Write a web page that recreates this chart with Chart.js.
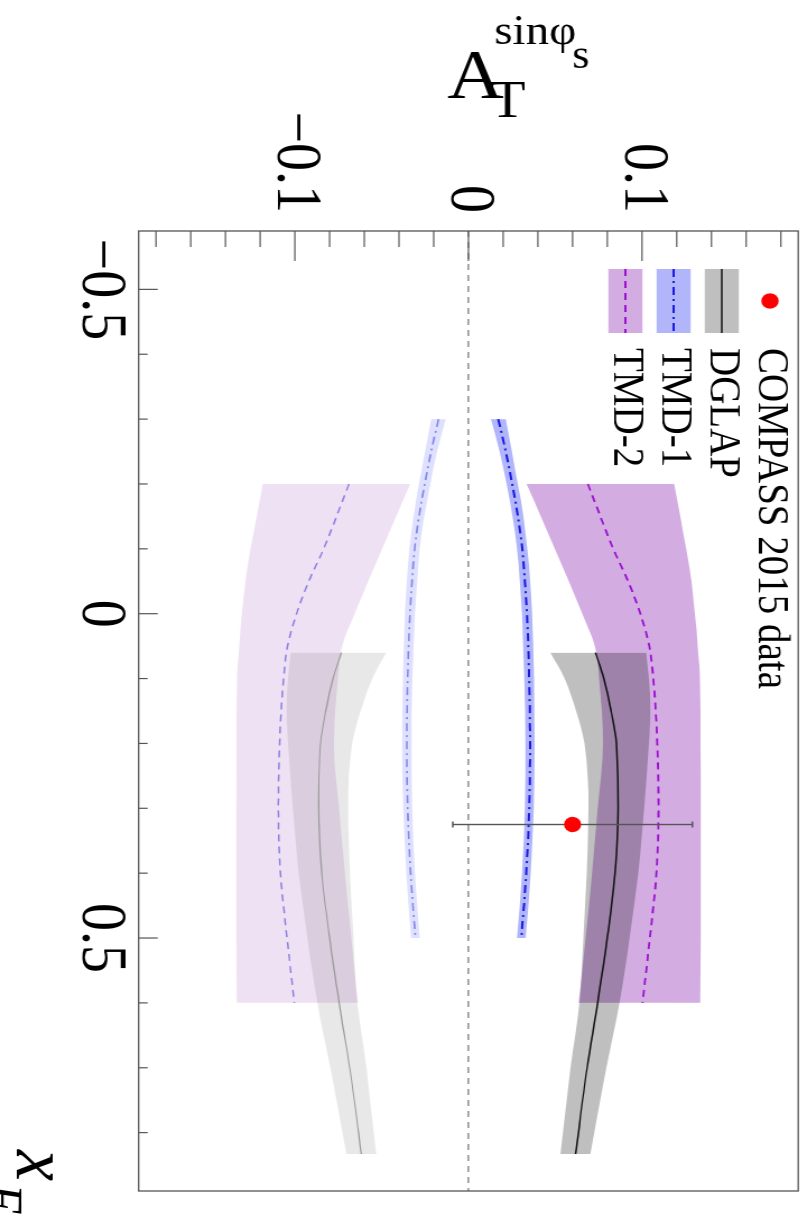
<!DOCTYPE html>
<html>
<head>
<meta charset="utf-8">
<script src="https://cdn.jsdelivr.net/npm/chart.js@4.4.1/dist/chart.umd.min.js"></script>
<style>
  html, body { margin: 0; padding: 0; background: #fff; overflow: hidden; }
  /* the plot is laid out with xF horizontal, then turned a quarter clockwise */
  #wrap {
    position: absolute; left: 0; top: 0;
    width: 1219px; height: 720px;
    transform-origin: 0 0;
    transform: translate(807px, 0) rotate(90deg) scaleY(1.1208);
  }
</style>
</head>
<body>
<div id="wrap"><canvas id="asym" width="1219" height="720"></canvas></div>
<script>
// DGLAP evolution: central curve and error band
const dglapX   = [0.06, 0.10, 0.15, 0.20, 0.30, 0.40, 0.50, 0.60, 0.70, 0.833];
const dglapMid = [0.0732, 0.0780, 0.0822, 0.0852, 0.0863, 0.0845, 0.0800, 0.0745, 0.0684, 0.0617];
const dglapHi  = [0.1023, 0.1040, 0.1048, 0.1040, 0.1012, 0.0978, 0.0928, 0.0870, 0.0795, 0.0703];
const dglapLo  = [0.0472, 0.0554, 0.0621, 0.0669, 0.0692, 0.0682, 0.0662, 0.0640, 0.0588, 0.0530];

// TMD-1 evolution
const tmd1X   = [-0.30, -0.25, -0.20, -0.15, -0.10, -0.05, 0.00, 0.10, 0.20, 0.30, 0.40, 0.50];
const tmd1Mid = [0.0172, 0.0215, 0.0252, 0.0285, 0.0310, 0.0325, 0.0337, 0.0350, 0.0355, 0.0350, 0.0333, 0.0305];
const tmd1Hi  = [0.0215, 0.0250, 0.0285, 0.0316, 0.0340, 0.0355, 0.0366, 0.0378, 0.0382, 0.0376, 0.0358, 0.0330];
const tmd1Lo  = [0.0130, 0.0180, 0.0220, 0.0254, 0.0280, 0.0295, 0.0308, 0.0322, 0.0328, 0.0324, 0.0308, 0.0280];

// TMD-2 evolution
const tmd2X   = [-0.20, -0.15, -0.10, -0.05, 0.00, 0.05, 0.10, 0.20, 0.30, 0.40, 0.50, 0.60];
const tmd2Mid = [0.0688, 0.0760, 0.0834, 0.0920, 0.0990, 0.1042, 0.1065, 0.1088, 0.1095, 0.1083, 0.1045, 0.1003];
const tmd2Hi  = [0.1185, 0.1220, 0.1255, 0.1285, 0.1305, 0.1320, 0.1333, 0.1337, 0.1338, 0.1338, 0.1338, 0.1335];
const tmd2Lo  = [0.0335, 0.0416, 0.0497, 0.0578, 0.0655, 0.0728, 0.0752, 0.0775, 0.0745, 0.0712, 0.0675, 0.0635];

// same curves with the opposite sign (pale copies below zero)
const dglapMidNeg = [-0.0732, -0.0780, -0.0822, -0.0852, -0.0863, -0.0845, -0.0800, -0.0745, -0.0684, -0.0617];
const dglapHiNeg  = [-0.0472, -0.0554, -0.0621, -0.0669, -0.0692, -0.0682, -0.0662, -0.0640, -0.0588, -0.0530];
const dglapLoNeg  = [-0.1023, -0.1040, -0.1048, -0.1040, -0.1012, -0.0978, -0.0928, -0.0870, -0.0795, -0.0703];
const tmd1MidNeg  = [-0.0172, -0.0215, -0.0252, -0.0285, -0.0310, -0.0325, -0.0337, -0.0350, -0.0355, -0.0350, -0.0333, -0.0305];
const tmd1HiNeg   = [-0.0130, -0.0180, -0.0220, -0.0254, -0.0280, -0.0295, -0.0308, -0.0322, -0.0328, -0.0324, -0.0308, -0.0280];
const tmd1LoNeg   = [-0.0215, -0.0250, -0.0285, -0.0316, -0.0340, -0.0355, -0.0366, -0.0378, -0.0382, -0.0376, -0.0358, -0.0330];
const tmd2MidNeg  = [-0.0688, -0.0760, -0.0834, -0.0920, -0.0990, -0.1042, -0.1065, -0.1088, -0.1095, -0.1083, -0.1045, -0.1003];
const tmd2HiNeg   = [-0.0335, -0.0416, -0.0497, -0.0578, -0.0655, -0.0728, -0.0752, -0.0775, -0.0745, -0.0712, -0.0675, -0.0635];
const tmd2LoNeg   = [-0.1185, -0.1220, -0.1255, -0.1285, -0.1305, -0.1320, -0.1333, -0.1337, -0.1338, -0.1338, -0.1338, -0.1335];

// COMPASS 2015 measurement
const compassX   = [0.325];
const compassA   = [0.060];
const compassErr = [0.069];

const seriesLabels = ['COMPASS 2015 data', 'DGLAP', 'TMD-1', 'TMD-2'];

// axis ranges, tick positions and the ticks that carry a label
const xfRange = [-0.59, 0.89];
const atRange = [-0.19, 0.19];
const xfTicks = [-0.5, -0.4, -0.3, -0.2, -0.1, 0, 0.1, 0.2, 0.3, 0.4, 0.5, 0.6, 0.7, 0.8];
const atTicks = [-0.18, -0.16, -0.14, -0.12, -0.1, -0.08, -0.06, -0.04, -0.02, 0,
                 0.02, 0.04, 0.06, 0.08, 0.1, 0.12, 0.14, 0.16, 0.18];
const xfLabelValues = [-0.5, 0, 0.5];
const xfLabels      = ['\u22120.5', '0', '0.5'];
const atLabelValues = [-0.1, 0, 0.1];
const atLabels      = ['\u22120.1', '0', '0.1'];

const col = {
  gray: 'rgba(0, 0, 0, 0.25)',
  purple: 'rgba(140, 40, 180, 0.38)',
  blue: 'rgba(40, 50, 240, 0.36)',
  grayPale: 'rgba(0, 0, 0, 0.09)',
  purplePale: 'rgba(140, 40, 180, 0.14)',
  bluePale: 'rgba(40, 50, 240, 0.15)',
  dglapLine: '#111111',
  tmd1Line: '#1a1ae0',
  tmd2Line: '#9a10d0',
  dglapPale: '#9a9a9a',
  tmd1Pale: '#8088e8',
  tmd2Pale: '#8c80e0'
};
const legendSwatch = [null, col.gray, col.blue, col.purple];

const pts = (xs, ys) => xs.map((x, i) => ({ x: x, y: ys[i] }));

function band(xs, hi, lo, color, order) {
  const edge = (ys, fill) => ({
    data: pts(xs, ys), fill: fill, backgroundColor: color,
    borderColor: 'transparent', borderWidth: 0, pointRadius: 0, order: order
  });
  return [edge(hi, false), edge(lo, '-1')];
}

function curve(label, xs, ys, color, width, dash, order) {
  return {
    label: label, data: pts(xs, ys), borderColor: color, borderWidth: width,
    borderDash: dash, fill: false, pointRadius: 0, order: order
  };
}

const datasets = [
  {
    label: seriesLabels[0], data: pts(compassX, compassA), showLine: false,
    pointRadius: 7.7, pointBackgroundColor: '#ff0000', pointBorderWidth: 0, order: 0
  },
  curve(seriesLabels[1], dglapX, dglapMid, col.dglapLine, 1.5, [], 2),
  curve(seriesLabels[2], tmd1X, tmd1Mid, col.tmd1Line, 2, [8, 4, 2, 4], 2),
  curve(seriesLabels[3], tmd2X, tmd2Mid, col.tmd2Line, 1.8, [7, 5], 2),
  ...band(dglapX, dglapHi, dglapLo, col.gray, 4),
  ...band(tmd1X, tmd1Hi, tmd1Lo, col.blue, 5),
  ...band(tmd2X, tmd2Hi, tmd2Lo, col.purple, 6),
  curve('', dglapX, dglapMidNeg, col.dglapPale, 1.2, [], 8),
  curve('', tmd1X, tmd1MidNeg, col.tmd1Pale, 1.6, [8, 4, 2, 4], 8),
  curve('', tmd2X, tmd2MidNeg, col.tmd2Pale, 1.5, [7, 5], 8),
  ...band(dglapX, dglapHiNeg, dglapLoNeg, col.grayPale, 10),
  ...band(tmd1X, tmd1HiNeg, tmd1LoNeg, col.bluePale, 11),
  ...band(tmd2X, tmd2HiNeg, tmd2LoNeg, col.purplePale, 12)
];

function tickLabel(values, labels) {
  return v => {
    const i = values.findIndex(t => Math.abs(t - v) < 1e-6);
    return i >= 0 ? labels[i] : '';
  };
}

// fixed box size, no extra room for edge labels
function fixBox(size, horizontal) {
  return s => {
    if (horizontal) s.height = size; else s.width = size;
    s.paddingTop = s.paddingBottom = s.paddingLeft = s.paddingRight = 0;
  };
}

// text that reads upright once the canvas is turned
function turnedText(ctx, text, u, v, font) {
  ctx.save();
  ctx.translate(u, v);
  ctx.rotate(-Math.PI / 2);
  ctx.font = font;
  ctx.textAlign = 'left';
  ctx.textBaseline = 'alphabetic';
  ctx.fillText(text, 0, 0);
  ctx.restore();
}

const decor = {
  id: 'decor',
  beforeDatasetsDraw(chart) {
    const { ctx, chartArea: a, scales } = chart;
    const y0 = scales.y.getPixelForValue(0);
    ctx.save();
    ctx.strokeStyle = '#777';
    ctx.lineWidth = 1.2;
    ctx.setLineDash([6, 5]);
    ctx.beginPath();
    ctx.moveTo(a.left, y0);
    ctx.lineTo(a.right, y0);
    ctx.stroke();
    ctx.restore();
  },
  beforeDatasetDraw(chart, args) {
    if (chart.data.datasets[args.index].label !== seriesLabels[0]) return;
    const { ctx, scales } = chart;
    ctx.save();
    ctx.strokeStyle = '#555';
    ctx.lineWidth = 1.4;
    compassX.forEach((x, i) => {
      const px = scales.x.getPixelForValue(x);
      const lo = scales.y.getPixelForValue(compassA[i] - compassErr[i]);
      const hi = scales.y.getPixelForValue(compassA[i] + compassErr[i]);
      ctx.beginPath();
      ctx.moveTo(px, lo); ctx.lineTo(px, hi);
      ctx.moveTo(px - 3, lo); ctx.lineTo(px + 3, lo);
      ctx.moveTo(px - 3, hi); ctx.lineTo(px + 3, hi);
      ctx.stroke();
    });
    ctx.restore();
  },
  afterDraw(chart) {
    const { ctx, chartArea: a, scales } = chart;
    ctx.save();

    // frame and inward ticks
    ctx.strokeStyle = '#555';
    ctx.lineWidth = 1.3;
    ctx.strokeRect(a.left, a.top, a.right - a.left, a.bottom - a.top);
    ctx.lineWidth = 1.2;
    scales.x.ticks.forEach(t => {
      const p = scales.x.getPixelForValue(t.value);
      const len = t.label ? 17 : 8;
      ctx.beginPath(); ctx.moveTo(p, a.bottom); ctx.lineTo(p, a.bottom - len); ctx.stroke();
    });
    scales.y.ticks.forEach(t => {
      const p = scales.y.getPixelForValue(t.value);
      const len = t.label ? 30 : 16;
      ctx.beginPath(); ctx.moveTo(a.left, p); ctx.lineTo(a.left + len, p); ctx.stroke();
    });

    // legend
    const sets = chart.data.datasets;
    seriesLabels.forEach((lab, i) => {
      const ds = sets.find(d => d.label === lab);
      const v = a.top + 25.2 + i * 43;
      const u0 = a.left + 38, u1 = a.left + 102;
      if (i === 0) {
        ctx.fillStyle = ds.pointBackgroundColor;
        ctx.beginPath(); ctx.arc((u0 + u1) / 2, v, 7.7, 0, Math.PI * 2); ctx.fill();
      } else {
        ctx.fillStyle = legendSwatch[i];
        ctx.fillRect(u0, v - 15.2, u1 - u0, 30.4);
        ctx.strokeStyle = ds.borderColor;
        ctx.lineWidth = ds.borderWidth;
        ctx.setLineDash(ds.borderDash);
        ctx.beginPath(); ctx.moveTo(u0, v); ctx.lineTo(u1, v); ctx.stroke();
        ctx.setLineDash([]);
      }
      ctx.fillStyle = '#000';
      ctx.font = '39px "Liberation Serif"';
      ctx.textAlign = 'left';
      ctx.textBaseline = 'middle';
      ctx.fillText(lab, a.left + 117, v);
    });

    // axis titles
    ctx.fillStyle = '#000';
    turnedText(ctx, 'A', 98, 321, '70px "Liberation Serif"');
    turnedText(ctx, 'T', 116.7, 283, '52px "Liberation Serif"');
    turnedText(ctx, 'sin\u03C6', 44, 279, '42px "Liberation Serif"');
    turnedText(ctx, 's', 68.3, 209.5, '40px "Liberation Serif"');

    ctx.font = 'italic 70px "Liberation Serif"';
    ctx.textAlign = 'left';
    ctx.textBaseline = 'alphabetic';
    ctx.fillText('x', 1150, 705);
    ctx.font = 'italic 48px "Liberation Serif"';
    ctx.fillText('F', 1184, 733);
    ctx.restore();
  }
};

Chart.defaults.font.family = '"Liberation Serif"';
Chart.defaults.color = '#000';

new Chart(document.getElementById('asym'), {
  type: 'line',
  data: { datasets: datasets },
  options: {
    responsive: false,
    animation: false,
    events: [],
    layout: { padding: { top: 7.8, right: 28, bottom: 0, left: 0 } },
    elements: { line: { cubicInterpolationMode: 'monotone' } },
    plugins: {
      legend: { display: false },
      tooltip: { enabled: false },
      filler: { propagate: false }
    },
    scales: {
      x: {
        type: 'linear', min: xfRange[0], max: xfRange[1],
        grid: { display: false, drawTicks: false },
        border: { display: false },
        afterBuildTicks: s => { s.ticks = xfTicks.map(v => ({ value: v })); },
        ticks: {
          autoSkip: false, maxRotation: 0, minRotation: 0,
          padding: 1, font: { size: 56 }, color: '#000',
          callback: tickLabel(xfLabelValues, xfLabels)
        },
        afterFit: fixBox(123.7, true)
      },
      y: {
        type: 'linear', min: atRange[0], max: atRange[1],
        grid: { display: false, drawTicks: false },
        border: { display: false },
        afterBuildTicks: s => { s.ticks = atTicks.map(v => ({ value: v })); },
        ticks: {
          autoSkip: false,
          padding: 18, font: { size: 56 }, color: '#000',
          callback: tickLabel(atLabelValues, atLabels)
        },
        afterFit: fixBox(231, false)
      }
    }
  },
  plugins: [decor]
});
</script>
</body>
</html>
